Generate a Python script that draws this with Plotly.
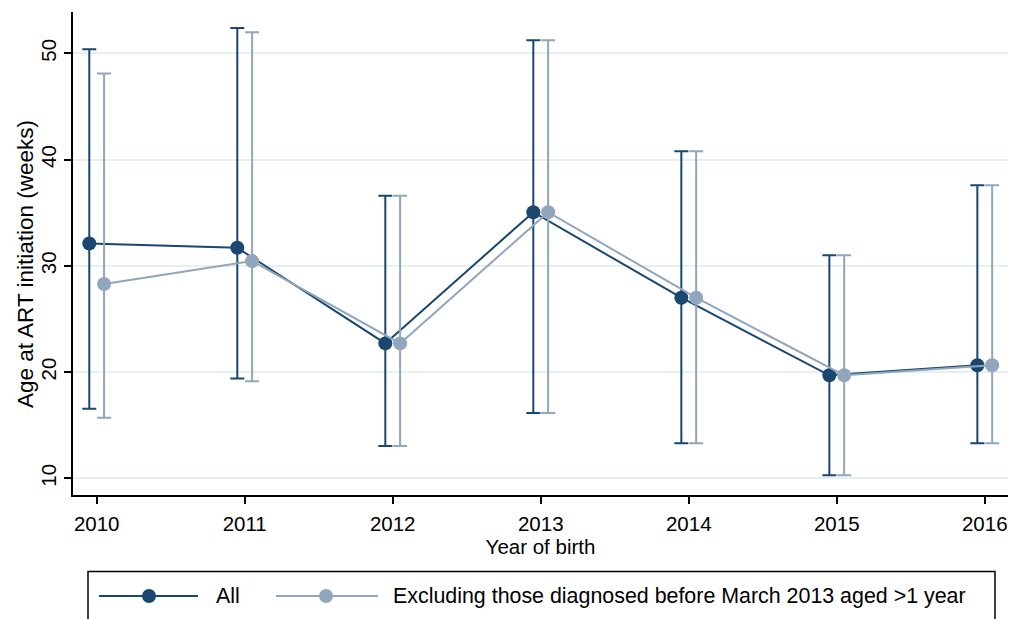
import plotly.graph_objects as go

# Median age at ART initiation by year of birth, with interquartile ranges
years = [2010, 2011, 2012, 2013, 2014, 2015, 2016]

all_median = [32.1, 31.7, 22.7, 35.05, 27.0, 19.7, 20.65]
all_upper = [50.4, 52.4, 36.6, 51.25, 40.8, 31.0, 37.6]
all_lower = [16.55, 19.4, 13.05, 16.15, 13.3, 10.3, 13.3]

excl_median = [28.3, 30.45, 22.7, 35.05, 27.0, 19.7, 20.65]
excl_upper = [48.1, 52.0, 36.6, 51.25, 40.8, 31.0, 37.6]
excl_lower = [15.7, 19.15, 13.05, 16.15, 13.3, 10.3, 13.3]

series_names = ["All", "Excluding those diagnosed before March 2013 aged >1 year"]

NAVY = "#1a476f"
LIGHT = "#90a6bc"
FONT = "Liberation Sans, Arial, sans-serif"

W, H = 1011, 619
ML, MR, MT, MB = 73, 3, 12, 124
PW = W - ML - MR
PH = H - MT - MB

dodge = 0.05


def px_x(p):
    return (p - ML) / PW


def px_y(p):
    return (H - MB - p) / PH


def trace(xs, med, up, lo, color, name):
    return go.Scatter(
        x=xs,
        y=med,
        mode="lines+markers",
        name=name,
        line=dict(color=color, width=2),
        marker=dict(color=color, size=14),
        error_y=dict(
            type="data",
            symmetric=False,
            array=[u - m for u, m in zip(up, med)],
            arrayminus=[m - l for m, l in zip(med, lo)],
            color=color,
            thickness=2,
            width=7,
        ),
        showlegend=False,
    )


fig = go.Figure()
fig.add_trace(trace([y - dodge for y in years], all_median, all_upper, all_lower, NAVY, series_names[0]))
fig.add_trace(trace([y + dodge for y in years], excl_median, excl_upper, excl_lower, LIGHT, series_names[1]))

# Legend drawn as a boxed key below the plot
shapes = [
    dict(type="rect", xref="paper", yref="paper",
         x0=px_x(88), x1=px_x(995), y0=px_y(640), y1=px_y(571.5),
         line=dict(color="black", width=1.5), fillcolor="rgba(0,0,0,0)"),
]
annotations = []
legend_items = [
    (99, 198, 149, 214, NAVY, series_names[0]),
    (276, 378, 326, 391, LIGHT, series_names[1]),
]
ly = px_y(596)
for x0, x1, xm, xt, col, label in legend_items:
    shapes.append(dict(type="line", xref="paper", yref="paper",
                       x0=px_x(x0), x1=px_x(x1), y0=ly, y1=ly,
                       line=dict(color=col, width=2)))
    shapes.append(dict(type="circle", xref="paper", yref="paper",
                       xsizemode="pixel", ysizemode="pixel",
                       xanchor=px_x(xm), yanchor=ly,
                       x0=-7, x1=7, y0=-7, y1=7,
                       line=dict(color=col, width=0), fillcolor=col))
    annotations.append(dict(xref="paper", yref="paper", x=px_x(xt), y=ly,
                            text=label, showarrow=False, xanchor="left",
                            yanchor="middle",
                            font=dict(family=FONT, size=21.4, color="black")))

# y-axis title
annotations.append(dict(xref="paper", yref="paper", x=px_x(25), y=px_y(264),
                        text="Age at ART initiation (weeks)", showarrow=False,
                        textangle=-90, xanchor="center", yanchor="middle",
                        font=dict(family=FONT, size=22.5, color="black")))

fig.update_layout(
    width=W,
    height=H,
    margin=dict(l=ML, r=MR, t=MT, b=MB),
    paper_bgcolor="white",
    plot_bgcolor="white",
    font=dict(family=FONT, size=20.5, color="black"),
    shapes=shapes,
    annotations=annotations,
    showlegend=False,
)

fig.update_xaxes(
    range=[2009.84, 2016.157],
    tickvals=years,
    ticktext=[str(y) for y in years],
    ticks="outside",
    ticklen=7,
    tickwidth=1.5,
    tickcolor="black",
    showline=True,
    linecolor="black",
    linewidth=1.5,
    showgrid=False,
    zeroline=False,
    ticklabelstandoff=3,
    title=dict(text="Year of birth", standoff=0, font=dict(size=20.5)),
    tickfont=dict(size=20.5),
)

fig.update_yaxes(
    range=[8.43, 53.9],
    tickvals=[10, 20, 30, 40, 50],
    ticks="outside",
    ticklen=7,
    tickwidth=1.5,
    tickcolor="black",
    tickangle=-90,
    showline=True,
    linecolor="black",
    linewidth=1.5,
    showgrid=True,
    gridcolor="#e8eff3",
    gridwidth=1.5,
    zeroline=False,
    tickfont=dict(size=20.5),
)

fig.write_html("out.html")
